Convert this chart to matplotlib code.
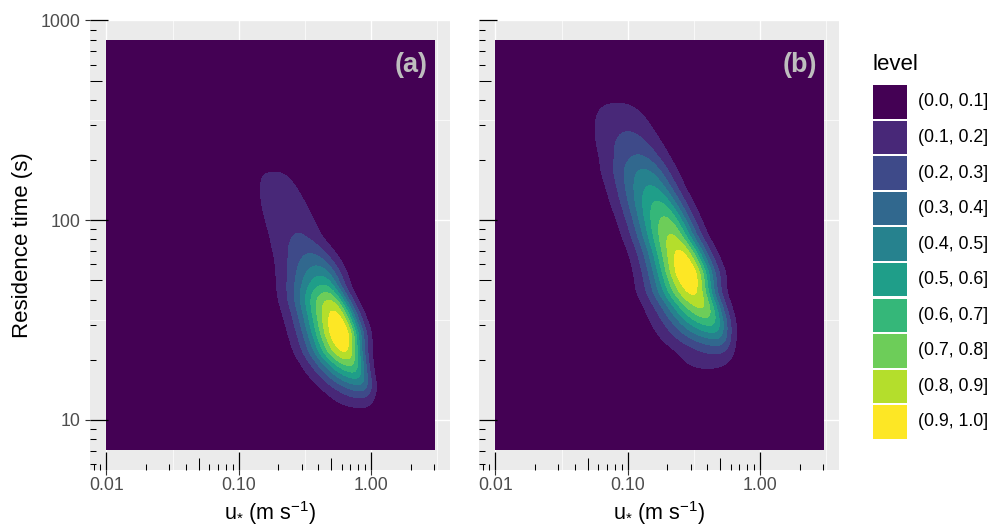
import numpy as np
import matplotlib
matplotlib.use("Agg")
import matplotlib.pyplot as plt
from matplotlib import transforms as mtransforms
from matplotlib.patches import Rectangle
from matplotlib.ticker import FixedLocator, FixedFormatter, NullLocator

plt.rcParams['font.family'] = ['Liberation Sans', 'DejaVu Sans']
plt.rcParams['mathtext.fontset'] = 'custom'
plt.rcParams['mathtext.rm'] = 'Liberation Sans'
plt.rcParams['mathtext.it'] = 'Liberation Sans:italic'

# ---------------- data ----------------
level_breaks = [0.0, 0.1, 0.2, 0.3, 0.4, 0.5, 0.6, 0.7, 0.8, 0.9, 1.0]
level_labels = ['(0.0, 0.1]', '(0.1, 0.2]', '(0.2, 0.3]', '(0.3, 0.4]', '(0.4, 0.5]',
                '(0.5, 0.6]', '(0.6, 0.7]', '(0.7, 0.8]', '(0.8, 0.9]', '(0.9, 1.0]']
level_colors = ['#440154', '#482878', '#3E4A89', '#31688E', '#26828E',
                '#1F9E89', '#35B779', '#6DCD59', '#B4DE2C', '#FDE725']

u_extent = [0.01, 3.0]        # m s-1
t_extent = [7.1, 794.0]       # s
x_breaks = [0.01, 0.1, 1.0]
x_labels = ['0.01', '0.10', '1.00']
y_breaks = [10, 100, 1000]
y_labels = ['10', '100', '1000']
panel_tags = ['(a)', '(b)']

# Ridge of the normalised density, read from the contour apexes:
# residence time (s), u* at the ridge (m s-1), density level at the ridge,
# and left / right spread (decades of u*)
ridge_t_a = [10.0, 11.6, 13.0, 14.1, 15.0, 16.2, 17.4, 18.8, 20.4, 21.9, 27.2,
             34.7, 39.4, 43.2, 46.2, 51.9, 58.2, 66.8, 82.2, 126.0, 178.0, 209.0]
ridge_u_a = [0.86, 0.86, 0.87, 0.87, 0.85, 0.80, 0.76, 0.72, 0.68, 0.65, 0.61,
             0.54, 0.495, 0.47, 0.45, 0.428, 0.40, 0.36, 0.295, 0.226, 0.183, 0.178]
ridge_level_a = [0.0, 0.1, 0.2, 0.3, 0.4, 0.5, 0.6, 0.7, 0.8, 0.9, 1.0,
                 0.9, 0.8, 0.7, 0.6, 0.5, 0.4, 0.3, 0.2, 0.145, 0.1, 0.0]
spread_left_a = [0.19, 0.19, 0.19, 0.195, 0.195, 0.195, 0.193, 0.19, 0.188, 0.187, 0.19,
                 0.19, 0.19, 0.19, 0.19, 0.19, 0.19, 0.19, 0.19, 0.205, 0.21, 0.21]
spread_right_a = [0.09, 0.085, 0.07, 0.065, 0.065, 0.068, 0.072, 0.078, 0.085, 0.09, 0.10,
                  0.10, 0.10, 0.10, 0.10, 0.108, 0.115, 0.122, 0.13, 0.15, 0.18, 0.18]

ridge_t_b = [15.8, 18.0, 21.9, 23.7, 25.7, 27.5, 29.9, 32.7, 36.7, 43.2, 54.3,
             69.2, 82.2, 102.0, 122.0, 146.0, 178.0, 207.0, 272.0, 389.0, 457.0]
ridge_u_b = [0.37, 0.40, 0.49, 0.50, 0.484, 0.46, 0.436, 0.405, 0.37, 0.318, 0.288,
             0.251, 0.22, 0.194, 0.172, 0.152, 0.134, 0.123, 0.102, 0.083, 0.081]
ridge_level_b = [0.0, 0.1, 0.2, 0.3, 0.4, 0.5, 0.6, 0.7, 0.8, 0.9, 1.0,
                 0.9, 0.8, 0.7, 0.6, 0.5, 0.4, 0.3, 0.2, 0.1, 0.0]
spread_left_b = [0.20, 0.21, 0.25, 0.26, 0.255, 0.245, 0.235, 0.225, 0.215, 0.205, 0.19,
                 0.185, 0.185, 0.187, 0.19, 0.19, 0.195, 0.20, 0.21, 0.22, 0.22]
spread_right_b = [0.19, 0.17, 0.09, 0.075, 0.078, 0.085, 0.093, 0.10, 0.105, 0.115, 0.13,
                  0.13, 0.13, 0.132, 0.135, 0.138, 0.145, 0.15, 0.165, 0.19, 0.19]

# ---------------- helpers ----------------
W, H = 992, 530


def fx(x):
    return x / W


def fy(y):
    return 1 - y / H


def density_field(lx, ly, t_k, u_k, lev_k, wl_k, wr_k):
    kly = np.log10(t_k)
    klx = np.log10(u_k)
    g = np.interp(ly, kly, lev_k, left=0.0, right=0.0)
    c = np.interp(ly, kly, klx)
    wl = np.interp(ly, kly, wl_k)
    wr = np.interp(ly, kly, wr_k)
    d = lx - c
    w = np.where(d < 0, wl, wr)
    return g * np.exp(-0.5 * (d / w) ** 2)


def smooth(z, s):
    r = int(3 * s)
    k = np.exp(-0.5 * (np.arange(-r, r + 1) / s) ** 2)
    k /= k.sum()
    zp = np.pad(z, r, mode='edge')
    zp = np.apply_along_axis(lambda v: np.convolve(v, k, mode='valid'), 0, zp)
    zp = np.apply_along_axis(lambda v: np.convolve(v, k, mode='valid'), 1, zp)
    return zp


lx_lo, lx_hi = np.log10(u_extent[0]), np.log10(u_extent[1])
ly_lo, ly_hi = np.log10(t_extent[0]), np.log10(t_extent[1])
lx = np.linspace(lx_lo, lx_hi, 620)
ly = np.linspace(ly_lo, ly_hi, 620)
LX, LY = np.meshgrid(lx, ly)

fields = []
for args in [(ridge_t_a, ridge_u_a, ridge_level_a, spread_left_a, spread_right_a),
             (ridge_t_b, ridge_u_b, ridge_level_b, spread_left_b, spread_right_b)]:
    z = density_field(LX, LY, *args)
    z = smooth(z, 7.0)
    z = np.clip(z / z.max(), 0, 1)
    fields.append(z)

# ---------------- figure ----------------
fig = plt.figure(figsize=(W / 100, H / 100), dpi=100)
fig.patch.set_facecolor('white')

xspan = lx_hi - lx_lo
yspan = ly_hi - ly_lo
xlim = (10 ** (lx_lo - 0.05 * xspan), 10 ** (lx_hi + 0.05 * xspan))
ylim = (10 ** (ly_lo - 0.05 * yspan), 10 ** (ly_hi + 0.05 * yspan))

panel_w_px = 360.4
panel_h_px = 450.0
panel_left_px = [90.0, 479.0]
panel_top_px = 20.0

grid_major = '#FFFFFF'
tick_col = '#333333'
lab_col = '#4D4D4D'

for i, z in enumerate(fields):
    ax = fig.add_axes([fx(panel_left_px[i]), fy(panel_top_px + panel_h_px),
                       panel_w_px / W, panel_h_px / H])
    ax.set_facecolor('#EBEBEB')
    ax.set_xscale('log')
    ax.set_yscale('log')
    ax.set_xlim(*xlim)
    ax.set_ylim(*ylim)
    for sp in ax.spines.values():
        sp.set_visible(False)

    # grid lines (major + minor as in ggplot)
    for v in x_breaks:
        ax.axvline(v, color=grid_major, lw=1.0, zorder=0)
    for v in [10 ** -1.5, 10 ** -0.5, 10 ** 0.5]:
        ax.axvline(v, color=grid_major, lw=0.5, zorder=0)
    for v in y_breaks:
        ax.axhline(v, color=grid_major, lw=1.0, zorder=0)
    for v in [10 ** 1.5, 10 ** 2.5]:
        ax.axhline(v, color=grid_major, lw=0.5, zorder=0)

    ax.contourf(10 ** LX, 10 ** LY, z, levels=level_breaks, colors=level_colors,
                zorder=1, antialiased=False)

    # axis ticks
    ax.xaxis.set_major_locator(FixedLocator(x_breaks))
    ax.xaxis.set_major_formatter(FixedFormatter(x_labels))
    ax.xaxis.set_minor_locator(NullLocator())
    ax.yaxis.set_major_locator(FixedLocator(y_breaks))
    ax.yaxis.set_minor_locator(NullLocator())
    ax.tick_params(axis='x', which='major', length=3.6, width=0.8, color=tick_col,
                   labelsize=12.8, labelcolor=lab_col, pad=1.5)
    if i == 0:
        ax.yaxis.set_major_formatter(FixedFormatter(y_labels))
        ax.tick_params(axis='y', which='major', length=3.6, width=0.8, color=tick_col,
                       labelsize=12.8, labelcolor=lab_col, pad=3.5)
    else:
        ax.tick_params(axis='y', which='major', length=0, labelleft=False)

    # log ticks (annotation_logticks style, inside the panel)
    ty = mtransforms.blended_transform_factory(ax.transAxes, ax.transData)
    tx = mtransforms.blended_transform_factory(ax.transData, ax.transAxes)
    for k in range(-3, 4):
        for m in range(1, 10):
            v = m * 10.0 ** k
            L = 18 if m == 1 else (12 if m == 5 else 6)
            lw = 0.9 if m == 1 else 0.75
            if ylim[0] * 1.005 < v < ylim[1]:
                ax.plot([0, L / panel_w_px], [v, v], transform=ty, color='black',
                        lw=lw, solid_capstyle='butt', zorder=3, clip_on=False)
            if xlim[0] * 1.005 < v < xlim[1] / 1.005:
                ax.plot([v, v], [0, L / panel_h_px], transform=tx, color='black',
                        lw=lw, solid_capstyle='butt', zorder=3, clip_on=False)

    # panel tag
    tag_x = [428, 817][i]
    fig.text(fx(tag_x), fy(65), panel_tags[i], ha='right', va='center',
             fontsize=19.5, fontweight='bold', color='#BEBEBE')

    # x title
    cx = panel_left_px[i] + panel_w_px / 2
    fig.text(fx(cx), fy(520), r'$\mathregular{u_{*}\ (m\ s^{-1})}$', ha='center',
             va='baseline', fontsize=15.5, color='black')

# y title
fig.text(fx(23), fy(245), 'Residence time (s)', rotation=90, ha='center', va='center',
         fontsize=16, color='black')

# legend
fig.text(fx(872), fy(64), 'level', ha='left', va='center', fontsize=16, color='black')
key_top0 = 85.2
key_step = 35.56
key_size = 33.4
for j, (col, lab) in enumerate(zip(level_colors, level_labels)):
    top = key_top0 + j * key_step
    fig.add_artist(Rectangle((fx(873.3), fy(top + key_size)), key_size / W, key_size / H,
                             transform=fig.transFigure, facecolor=col, edgecolor='none'))
    fig.text(fx(918.5), fy(top + key_size / 2), lab, ha='left', va='center',
             fontsize=12.8, color='black')

fig.savefig('out.png', dpi=100)
